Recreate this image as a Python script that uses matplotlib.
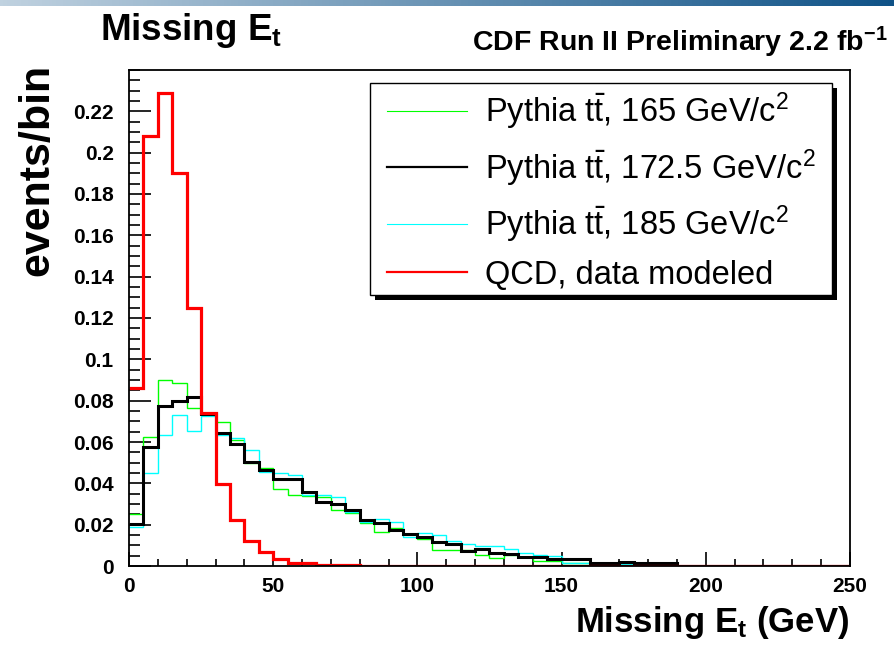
import numpy as np
import matplotlib
matplotlib.use('Agg')
import matplotlib.pyplot as plt
import matplotlib.ticker as mticker
from matplotlib.lines import Line2D
from matplotlib.patches import Rectangle

plt.rcParams['font.family'] = ['Liberation Sans', 'DejaVu Sans']
plt.rcParams['mathtext.fontset'] = 'custom'
plt.rcParams['mathtext.rm'] = 'Liberation Sans'
plt.rcParams['mathtext.it'] = 'Liberation Sans:italic'
plt.rcParams['mathtext.bf'] = 'Liberation Sans:bold'

# 5 GeV bins, 0-250 GeV
bin_edges = np.arange(0, 255, 5)

# events/bin
top165 = [0.025, 0.0626, 0.0901, 0.0885, 0.0764, 0.073, 0.0699, 0.061, 0.0497, 0.0476,
          0.0371, 0.0344, 0.034, 0.0336, 0.0271, 0.0258, 0.021, 0.0166, 0.0182, 0.0155,
          0.0129, 0.0077, 0.0077, 0.0077, 0.0053, 0.0037, 0.0053, 0.0045, 0.0026, 0.0026,
          0.0016, 0.0013, 0.0008, 0.0005, 0, 0, 0, 0, 0, 0,
          0, 0, 0, 0, 0, 0, 0, 0, 0, 0]
top1725 = [0.0203, 0.0578, 0.0775, 0.0796, 0.082, 0.0735, 0.0642, 0.0589, 0.0502, 0.0465,
           0.0421, 0.0421, 0.036, 0.0311, 0.030, 0.0271, 0.0223, 0.0207, 0.0174, 0.0155,
           0.0142, 0.0115, 0.0107, 0.0074, 0.0081, 0.0061, 0.0058, 0.0042, 0.0042, 0.0032,
           0.0032, 0.0032, 0.0016, 0.0016, 0.002, 0.0016, 0.0016, 0.0016, 0, 0,
           0, 0, 0, 0, 0, 0, 0, 0, 0, 0]
top185 = [0.019, 0.0452, 0.0634, 0.0731, 0.0655, 0.0726, 0.0634, 0.0618, 0.0562, 0.0457,
          0.0449, 0.0441, 0.0344, 0.0344, 0.0336, 0.0263, 0.0215, 0.0226, 0.0215, 0.0142,
          0.0161, 0.015, 0.0123, 0.0107, 0.0098, 0.0098, 0.0082, 0.0061, 0.0053, 0.0047,
          0.0016, 0.0013, 0.001, 0.0008, 0.0008, 0.0008, 0.0015, 0.0008, 0, 0,
          0, 0, 0, 0, 0, 0, 0, 0, 0, 0]
qcd = [0.086, 0.208, 0.229, 0.190, 0.125, 0.074, 0.0395, 0.0223, 0.0123, 0.0066,
       0.0035, 0.0015, 0.0013, 0.0006, 0.0006, 0.0006, 0, 0, 0, 0,
       0, 0, 0, 0, 0, 0, 0, 0, 0, 0,
       0, 0, 0, 0, 0, 0, 0, 0, 0, 0,
       0, 0, 0, 0, 0, 0, 0, 0, 0, 0]

labels = [r'Pythia $\mathrm{t\bar{t}}$, 165 GeV/c$^2$',
          r'Pythia $\mathrm{t\bar{t}}$, 172.5 GeV/c$^2$',
          r'Pythia $\mathrm{t\bar{t}}$, 185 GeV/c$^2$',
          'QCD, data modeled']

W, H = 895, 651
fig = plt.figure(figsize=(W / 100, H / 100), dpi=100)

# slide header gradient band
band = fig.add_axes([0, 1 - 6 / H, 1, 6 / H])
c0 = np.array([192, 210, 224]) / 255
c1 = np.array([15, 82, 135]) / 255
t = np.linspace(0, 1, 256)[:, None]
grad = (c0 * (1 - t) + c1 * t)[None, :, :]
band.imshow(grad, aspect='auto', extent=[0, 1, 0, 1])
band.axis('off')

ax = fig.add_axes([129 / W, 1 - 566 / H, 721 / W, 496 / H])

ax.stairs(top165, bin_edges, baseline=None, color='#00ff00', lw=1.0, zorder=2)
ax.stairs(top185, bin_edges, baseline=None, color='#00ffff', lw=1.0, zorder=3)
ax.stairs(top1725, bin_edges, baseline=None, color='black', lw=2.2, zorder=4)
ax.stairs(qcd, bin_edges, baseline=None, color='#ff0000', lw=2.3, zorder=5)

ax.set_xlim(0, 250)
ax.set_ylim(0, 0.24)
for s in ax.spines.values():
    s.set_linewidth(1.3)
    s.set_zorder(6)

ax.xaxis.set_major_locator(mticker.MultipleLocator(50))
ax.xaxis.set_minor_locator(mticker.MultipleLocator(10))
ax.yaxis.set_major_locator(mticker.FixedLocator(np.arange(0, 0.2201, 0.02)))
ax.yaxis.set_minor_locator(mticker.MultipleLocator(0.005))
ax.yaxis.set_major_formatter(mticker.FuncFormatter(lambda v, p: f'{v:g}'))
ax.tick_params(axis='both', which='both', direction='in', top=False, right=False,
               width=1.2, labelsize=15)
ax.tick_params(axis='y', which='major', length=15.8, pad=11)
ax.tick_params(axis='y', which='minor', length=8)
ax.tick_params(axis='x', which='major', length=10, pad=8)
ax.tick_params(axis='x', which='minor', length=5)
for lab in ax.get_xticklabels() + ax.get_yticklabels():
    lab.set_fontweight('bold')

fig.text(100 / W, 1 - 40 / H, r'Missing E$_\mathbf{t}$', fontsize=26.5,
         fontweight='bold', ha='left', va='baseline')
fig.text(888 / W, 1 - 51 / H, r'CDF Run II Preliminary 2.2 fb$^\mathbf{-1}$',
         fontsize=20.5, fontweight='bold', ha='right', va='baseline')
fig.text(849 / W, 1 - 632 / H, r'Missing E$_\mathbf{t}$ (GeV)', fontsize=25,
         fontweight='bold', ha='right', va='baseline')
fig.text(37 / W, 1 - 64 / H, 'events/bin', fontsize=31, fontweight='bold',
         rotation=90, ha='center', va='top')

# legend frame with a hard black shadow
ax.add_patch(Rectangle((375 / W, 1 - 300 / H), 462 / W, 212 / H,
                       transform=fig.transFigure, facecolor='black',
                       edgecolor='none', clip_on=False, zorder=8))
ax.add_patch(Rectangle((370 / W, 1 - 295 / H), 462 / W, 212 / H,
                       transform=fig.transFigure, facecolor='white',
                       edgecolor='black', lw=1.0, clip_on=False, zorder=9))

handles = [Line2D([], [], color='#00ff00', lw=0.8),
           Line2D([], [], color='black', lw=1.6),
           Line2D([], [], color='#00ffff', lw=0.8),
           Line2D([], [], color='#ff0000', lw=1.6)]
leg = ax.legend(handles, labels, loc='upper left',
                bbox_to_anchor=(387 / W, 1 - 91 / H),
                bbox_transform=fig.transFigure,
                fontsize=23.5, frameon=False, borderpad=0,
                labelspacing=0.45, handlelength=2.45,
                handletextpad=0.55, borderaxespad=0)
leg.set_zorder(10)

fig.savefig('out.png', dpi=100)
